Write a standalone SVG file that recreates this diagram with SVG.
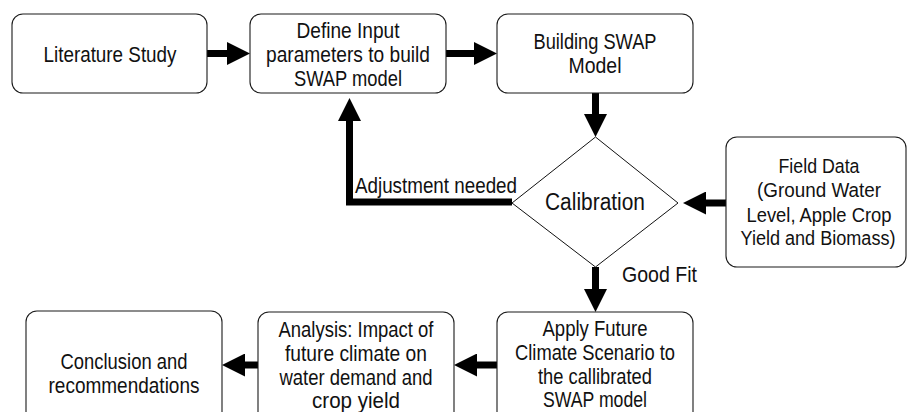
<svg xmlns="http://www.w3.org/2000/svg" width="908" height="412" viewBox="0 0 908 412">
<style>
.box{fill:#fff;stroke:#1a1a1a;stroke-width:1.1}
.dia{fill:#fff;stroke:#111;stroke-width:1}
.t{font-family:"Liberation Sans",Arial,sans-serif;font-size:21.5px;fill:#111;text-anchor:middle}
.big{font-size:23px}
.fd{font-size:20.5px}
.fs{font-size:19.5px}
.lbl{text-anchor:start}
.c{fill:none;stroke:#000;stroke-width:7;stroke-linejoin:miter}
</style>
<defs>
<marker id="ah" viewBox="0 0 23 23" refX="2" refY="11.5" markerWidth="23" markerHeight="23" markerUnits="userSpaceOnUse" orient="auto">
<path d="M0,0 L23,11.5 L0,23 z" fill="#000"/>
</marker>
</defs>
<g id="connectors">
<path class="c" d="M207,53.5 H229" marker-end="url(#ah)"/>
<path class="c" d="M446,53.5 H476" marker-end="url(#ah)"/>
<path class="c" d="M595.5,93 V116" marker-end="url(#ah)"/>
<path class="c" d="M726,203 H704" marker-end="url(#ah)"/>
<path class="c" d="M512,202 H349.5 V119" marker-end="url(#ah)"/>
<path class="c" d="M595.5,267 V291" marker-end="url(#ah)"/>
<path class="c" d="M497,365 H475" marker-end="url(#ah)"/>
<path class="c" d="M258,365 H243" marker-end="url(#ah)"/>
<text class="t lbl" x="355" y="193" textLength="162" lengthAdjust="spacingAndGlyphs">Adjustment needed</text>
<text class="t lbl" x="622" y="282" textLength="75" lengthAdjust="spacingAndGlyphs">Good Fit</text>
</g>
<g id="literature">
<rect class="box" x="12" y="14" width="195" height="79" rx="11"/>
<text class="t" x="110" y="61.5" textLength="133" lengthAdjust="spacingAndGlyphs">Literature Study</text>
</g>
<g id="define">
<rect class="box" x="250" y="14" width="196" height="79" rx="11"/>
<text class="t" x="348" y="38.3" textLength="103" lengthAdjust="spacingAndGlyphs">Define Input</text>
<text class="t" x="348" y="62" textLength="164" lengthAdjust="spacingAndGlyphs">parameters to build</text>
<text class="t" x="348" y="86" textLength="108" lengthAdjust="spacingAndGlyphs">SWAP model</text>
</g>
<g id="building">
<rect class="box" x="497" y="14" width="196" height="79" rx="11"/>
<text class="t" x="595" y="49" textLength="123" lengthAdjust="spacingAndGlyphs">Building SWAP</text>
<text class="t" x="595" y="73" textLength="53" lengthAdjust="spacingAndGlyphs">Model</text>
</g>
<g id="calibration">
<path class="dia" d="M595.5,137 L678,203 L595.5,267 L512,203 z"/>
<text class="t big" x="595" y="210" textLength="100" lengthAdjust="spacingAndGlyphs">Calibration</text>
</g>
<g id="fielddata">
<rect class="box" x="726" y="137" width="180" height="130" rx="11"/>
<text class="t fd" x="819" y="173" textLength="81" lengthAdjust="spacingAndGlyphs">Field Data</text>
<text class="t fd" x="819" y="197" textLength="124" lengthAdjust="spacingAndGlyphs">(Ground Water</text>
<text class="t fd" x="819" y="221.5" textLength="145" lengthAdjust="spacingAndGlyphs">Level, Apple Crop</text>
<text class="t fs" x="818" y="245" textLength="155" lengthAdjust="spacingAndGlyphs">Yield and Biomass)</text>
</g>
<g id="apply">
<rect class="box" x="497" y="312" width="196" height="115" rx="11"/>
<text class="t" x="595" y="336" textLength="105" lengthAdjust="spacingAndGlyphs">Apply Future</text>
<text class="t" x="595" y="360" textLength="160" lengthAdjust="spacingAndGlyphs">Climate Scenario to</text>
<text class="t" x="595" y="383.5" textLength="114" lengthAdjust="spacingAndGlyphs">the callibrated</text>
<text class="t" x="595" y="407" textLength="104" lengthAdjust="spacingAndGlyphs">SWAP model</text>
</g>
<g id="analysis">
<rect class="box" x="258" y="312" width="196" height="115" rx="11"/>
<text class="t" x="356" y="337" textLength="155" lengthAdjust="spacingAndGlyphs">Analysis: Impact of</text>
<text class="t" x="356" y="360.5" textLength="142" lengthAdjust="spacingAndGlyphs">future climate on</text>
<text class="t" x="356" y="384.5" textLength="153" lengthAdjust="spacingAndGlyphs">water demand and</text>
<text class="t" x="356" y="407.5" textLength="88" lengthAdjust="spacingAndGlyphs">crop yield</text>
</g>
<g id="conclusion">
<rect class="box" x="26" y="311" width="196" height="116" rx="11"/>
<text class="t" x="124" y="369" textLength="127" lengthAdjust="spacingAndGlyphs">Conclusion and</text>
<text class="t" x="124" y="393" textLength="151" lengthAdjust="spacingAndGlyphs">recommendations</text>
</g>
</svg>
